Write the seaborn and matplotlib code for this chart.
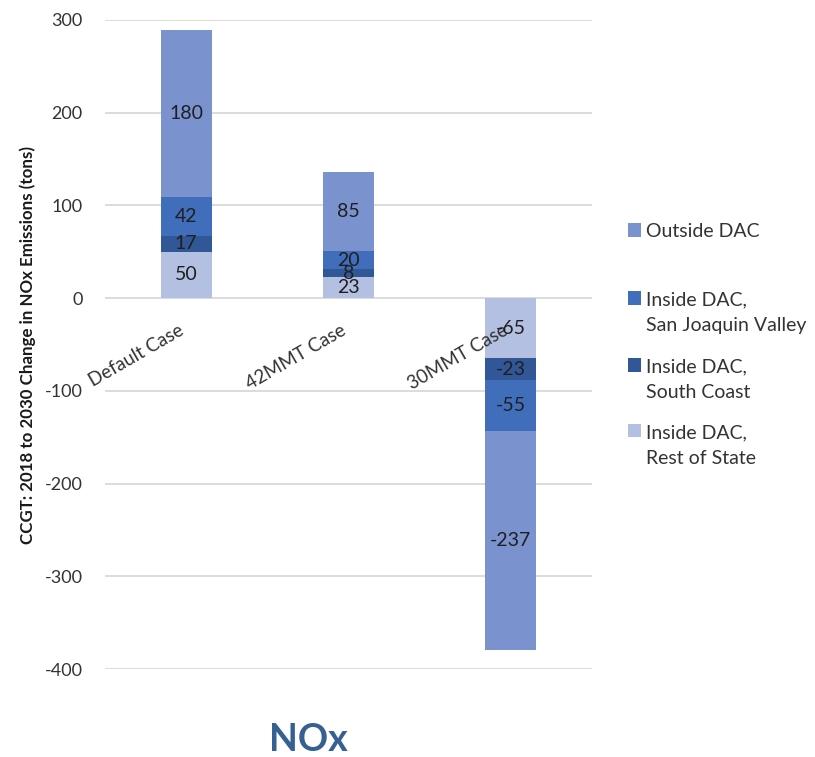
import matplotlib
matplotlib.use("Agg")
import matplotlib.pyplot as plt
from matplotlib.patches import Rectangle
import numpy as np
import pandas as pd
import seaborn as sns

# Values (tons) per scenario
categories = ["Default Case", "42MMT Case", "30MMT Case"]
outside_dac = [180, 85, -237]
inside_sjv = [42, 20, -55]
inside_south_coast = [17, 8, -23]
inside_rest_of_state = [50, 23, -65]

series_names = [
    "Outside DAC",
    "Inside DAC,\nSan Joaquin Valley",
    "Inside DAC,\nSouth Coast",
    "Inside DAC,\nRest of State",
]
series_values = [outside_dac, inside_sjv, inside_south_coast, inside_rest_of_state]
series_colors = ["#7A93CE", "#406EBA", "#315797", "#B4C0E1"]

y_ticks = [-400, -300, -200, -100, 0, 100, 200, 300]

sns.set_style("white")
plt.rcParams["font.family"] = ["Lato", "DejaVu Sans"]

W, H = 815, 757
fig = plt.figure(figsize=(W / 100, H / 100), dpi=100)
ax = fig.add_axes([105 / W, 1 - 669 / H, (592 - 105) / W, (669 - 20) / H])

# Stack from the bottom: Rest of State, South Coast, SJV, Outside DAC
stack_order = [3, 2, 1, 0]
pos_base = np.zeros(len(categories))
neg_base = np.zeros(len(categories))
labels = []
for k in stack_order:
    vals = np.array(series_values[k], dtype=float)
    bottoms = np.where(vals >= 0, pos_base, neg_base)
    df = pd.DataFrame({"case": categories, "tons": vals})
    sns.barplot(data=df, x="case", y="tons", order=categories, bottom=bottoms,
                color=series_colors[k], width=0.314, errorbar=None,
                linewidth=0, saturation=1, ax=ax, zorder=2)
    for i, v in enumerate(vals):
        labels.append((i, bottoms[i] + v / 2, int(v)))
    pos_base = pos_base + np.where(vals >= 0, vals, 0)
    neg_base = neg_base + np.where(vals < 0, vals, 0)

for i, yc, v in labels:
    ax.text(i, yc, f"{v}", ha="center", va="center", fontsize=14,
            color="#1F1F1F", zorder=4)

ax.set_ylim(-400, 300)
ax.set_xlim(-0.5, len(categories) - 0.5)
ax.set_yticks(y_ticks)
ax.set_yticklabels([str(t) for t in y_ticks])

# Horizontal gridlines kept behind the bars; the axis (tick labels) above them
ax.grid(False)
ax.set_axisbelow(False)
for t in y_ticks:
    ax.axhline(t, color="#D9D9D9", linewidth=1.3, zorder=0.5)

for side in ["top", "right", "left", "bottom"]:
    ax.spines[side].set_visible(False)
ax.spines["bottom"].set_position(("data", 0))

ax.tick_params(axis="y", length=0, pad=16, labelsize=13, labelcolor="#333333")
ax.tick_params(axis="x", length=0, pad=17, labelsize=13.5, labelcolor="#333333")
for lab in ax.get_xticklabels():
    lab.set_rotation(30)
    lab.set_ha("right")
    lab.set_va("top")

ax.set_xlabel("")
ax.set_ylabel("CCGT: 2018 to 2030 Change in NOx Emissions (tons)",
              fontsize=12.2, fontweight="bold", color="#1A1A1A")
ax.yaxis.set_label_coords((36 - 105) / 487, 0.5)

# Legend, listed top-down from Outside DAC
legend_rows = [230, 298, 365, 431]
for name, color, yc in zip(series_names, series_colors, legend_rows):
    fig.add_artist(Rectangle((628 / W, 1 - (yc + 6.5) / H), 13 / W, 13 / H,
                             transform=fig.transFigure, facecolor=color,
                             edgecolor="none"))
    for j, line in enumerate(name.split("\n")):
        yl = yc + 26 * j
        fig.text(646 / W, 1 - (yl + 7) / H, line, ha="left", va="baseline",
                 fontsize=14, color="#333333")

fig.text(308 / W, 1 - 751 / H, "NOx", ha="center", va="baseline",
         fontsize=27, fontweight="bold", color="#366092")

fig.savefig("out.png", dpi=100)
